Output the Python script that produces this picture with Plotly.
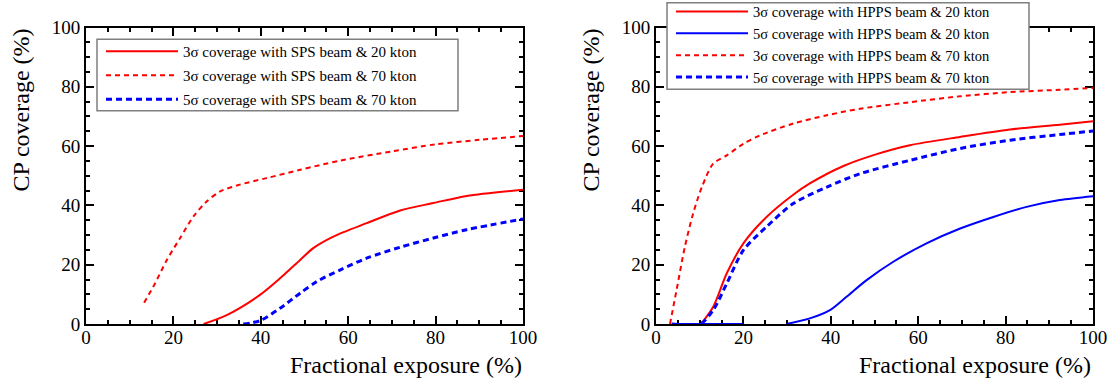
import plotly.graph_objects as go

# ---------------- data ----------------
# Left panel (SPS beam)
sps_3s_20_x = [26.9, 32.2, 39.8, 44.4, 49.0, 52.0, 56.6, 64.2, 71.9, 79.5, 87.1, 100]
sps_3s_20_y = [0, 3.0, 9.8, 15.4, 21.6, 25.6, 29.5, 34.0, 38.3, 40.8, 43.2, 45.3]

sps_3s_70_x = [13.3, 15.8, 18.5, 21.5, 24.6, 27.6, 30.7, 35.2, 41.3, 49.0, 58.1, 70, 80, 90, 100]
sps_3s_70_y = [7.2, 13.7, 21.6, 28.9, 36.3, 41.3, 44.7, 47.0, 49.2, 52.0, 55.1, 58.2, 60.6, 62.1, 63.4]

sps_5s_70_x = [36.0, 39.8, 44.4, 49.0, 52.8, 58.1, 64.2, 71.9, 79.5, 87.1, 100]
sps_5s_70_y = [0, 1.1, 5.3, 10.4, 14.3, 18.2, 22.2, 25.9, 29.0, 31.8, 35.4]

# Right panel (HPPS beam)
hpps_3s_20_x = [10.3, 13.1, 16.2, 20.0, 25.3, 31.4, 35.2, 42.9, 50.5, 58.1, 69.6, 81.0, 92.4, 100]
hpps_3s_20_y = [0, 5.8, 17.1, 27.2, 36.1, 43.6, 47.4, 53.3, 57.3, 60.3, 63.1, 65.6, 67.2, 68.4]

hpps_5s_20_x = [3.6, 20.0, None, 29.9, 35.2, 39.8, 43.6, 48.2, 54.3, 61.9, 69.6, 77.2, 84.8, 92.4, 100]
hpps_5s_20_y = [0, 0, None, 0, 1.9, 4.7, 9.2, 14.8, 21.0, 27.2, 32.2, 36.1, 39.5, 41.8, 43.1]

hpps_3s_70_x = [3.2, 4.7, 6.6, 8.5, 10.5, 13.1, 16.2, 20.0, 23.8, 31.4, 39.1, 46.7, 58.1, 69.6, 81.0, 92.4, 100]
hpps_3s_70_y = [0, 11.4, 26.0, 37.3, 46.2, 54.1, 56.9, 60.8, 63.6, 67.6, 70.4, 72.6, 74.8, 76.8, 78.2, 79.0, 79.6]

hpps_5s_70_x = [3.6, 10.1, 13.1, 16.2, 20.0, 25.3, 31.4, 39.1, 46.7, 58.1, 69.6, 81.0, 92.4, 100]
hpps_5s_70_y = [0, 0, 4.7, 13.7, 24.9, 32.8, 40.6, 46.2, 50.7, 55.2, 59.2, 62.0, 63.9, 65.1]

left_names = ["3σ coverage with SPS beam & 20 kton",
              "3σ coverage with SPS beam & 70 kton",
              "5σ coverage with SPS beam & 70 kton"]
right_names = ["3σ coverage with HPPS beam & 20 kton",
               "5σ coverage with HPPS beam & 20 kton",
               "3σ coverage with HPPS beam & 70 kton",
               "5σ coverage with HPPS beam & 70 kton"]

x_title = "Fractional exposure (%)"
y_title = "CP coverage (%)"

# ---------------- layout helpers ----------------
W, H = 1115, 383
def px(x):
    return x / W
def py(y):
    return 1 - y / H

RED = "#ff0000"
BLUE = "#0000ff"
FONT = "Liberation Serif, Times New Roman, serif"
TITLE_SIZE = 24

fig = go.Figure()

def add(x, y, name, color, width, dash, xa, ya, legend, group):
    fig.add_trace(go.Scatter(
        x=x, y=y, name=name, mode="lines",
        line=dict(color=color, width=width, dash=dash, shape="spline", smoothing=0.8),
        xaxis=xa, yaxis=ya, legend=legend, legendgroup=group,
        hoverinfo="skip"))

add(sps_3s_20_x, sps_3s_20_y, left_names[0], RED, 2, "solid", "x", "y", "legend", "a")
add(sps_3s_70_x, sps_3s_70_y, left_names[1], RED, 2, "5px,4px", "x", "y", "legend", "b")
add(sps_5s_70_x, sps_5s_70_y, left_names[2], BLUE, 3, "6px,4px", "x", "y", "legend", "c")

add(hpps_3s_20_x, hpps_3s_20_y, right_names[0], RED, 2, "solid", "x2", "y2", "legend2", "d")
add(hpps_5s_20_x, hpps_5s_20_y, right_names[1], BLUE, 2, "solid", "x2", "y2", "legend2", "e")
add(hpps_3s_70_x, hpps_3s_70_y, right_names[2], RED, 2, "5px,4px", "x2", "y2", "legend2", "f")
add(hpps_5s_70_x, hpps_5s_70_y, right_names[3], BLUE, 3, "6px,4px", "x2", "y2", "legend2", "g")

axis_common = dict(
    range=[0, 100], showline=True, linecolor="black", linewidth=2,
    mirror="allticks", ticks="inside", ticklen=8, tickwidth=1.5, tickcolor="black",
    tick0=0, dtick=20, showgrid=False, zeroline=False, layer="below traces",
    automargin=False,
    tickfont=dict(family=FONT, size=19, color="black"),
    minor=dict(ticks="inside", ticklen=4, tickwidth=1.5, tickcolor="black",
               dtick=5, showgrid=False),
    fixedrange=True,
)
xaxis_extra = dict(ticklabelstandoff=-5)

ydom = [py(324), py(27.5)]
fig.update_layout(
    width=W, height=H,
    margin=dict(l=0, r=0, t=0, b=0, autoexpand=False),
    font=dict(family=FONT, color="black"),
    paper_bgcolor="white", plot_bgcolor="white",
    xaxis=dict(domain=[px(86), px(523)], anchor="y", **axis_common, **xaxis_extra),
    yaxis=dict(domain=ydom, anchor="x", **axis_common),
    xaxis2=dict(domain=[px(656), px(1093)], anchor="y2", **axis_common, **xaxis_extra),
    yaxis2=dict(domain=ydom, anchor="x2", **axis_common),
    legend=dict(x=px(101), y=py(35), xanchor="left", yanchor="top",
                bgcolor="rgba(0,0,0,0)", borderwidth=0, itemwidth=72,
                tracegroupgap=1.5,
                font=dict(family=FONT, size=15, color="black")),
    legend2=dict(x=px(671), y=py(-4.5), xanchor="left", yanchor="top",
                 bgcolor="rgba(0,0,0,0)", borderwidth=0, itemwidth=72,
                 tracegroupgap=0,
                 font=dict(family=FONT, size=14.5, color="black")),
    showlegend=True,
    shapes=[
        dict(type="rect", xref="paper", yref="paper", layer="above",
             x0=px(97), x1=px(458), y0=py(110.7), y1=py(39.3),
             line=dict(color="#7f7f7f", width=1.5), fillcolor="white"),
        dict(type="rect", xref="paper", yref="paper", layer="above",
             x0=px(667), x1=px(1029), y0=py(89.3), y1=py(2.7),
             line=dict(color="#7f7f7f", width=1.5), fillcolor="white"),
    ],
    annotations=[
        dict(text=x_title, xref="paper", yref="paper", x=px(524), y=py(365),
             xanchor="right", yanchor="middle", showarrow=False,
             font=dict(family=FONT, size=TITLE_SIZE, color="black")),
        dict(text=x_title, xref="paper", yref="paper", x=px(1093), y=py(365),
             xanchor="right", yanchor="middle", showarrow=False,
             font=dict(family=FONT, size=TITLE_SIZE, color="black")),
        dict(text=y_title, xref="paper", yref="paper", x=px(20), y=py(27),
             xanchor="center", yanchor="top", textangle=-90, showarrow=False,
             font=dict(family=FONT, size=TITLE_SIZE, color="black")),
        dict(text=y_title, xref="paper", yref="paper", x=px(590), y=py(27),
             xanchor="center", yanchor="top", textangle=-90, showarrow=False,
             font=dict(family=FONT, size=TITLE_SIZE, color="black")),
    ],
)

fig.write_html("out.html")
